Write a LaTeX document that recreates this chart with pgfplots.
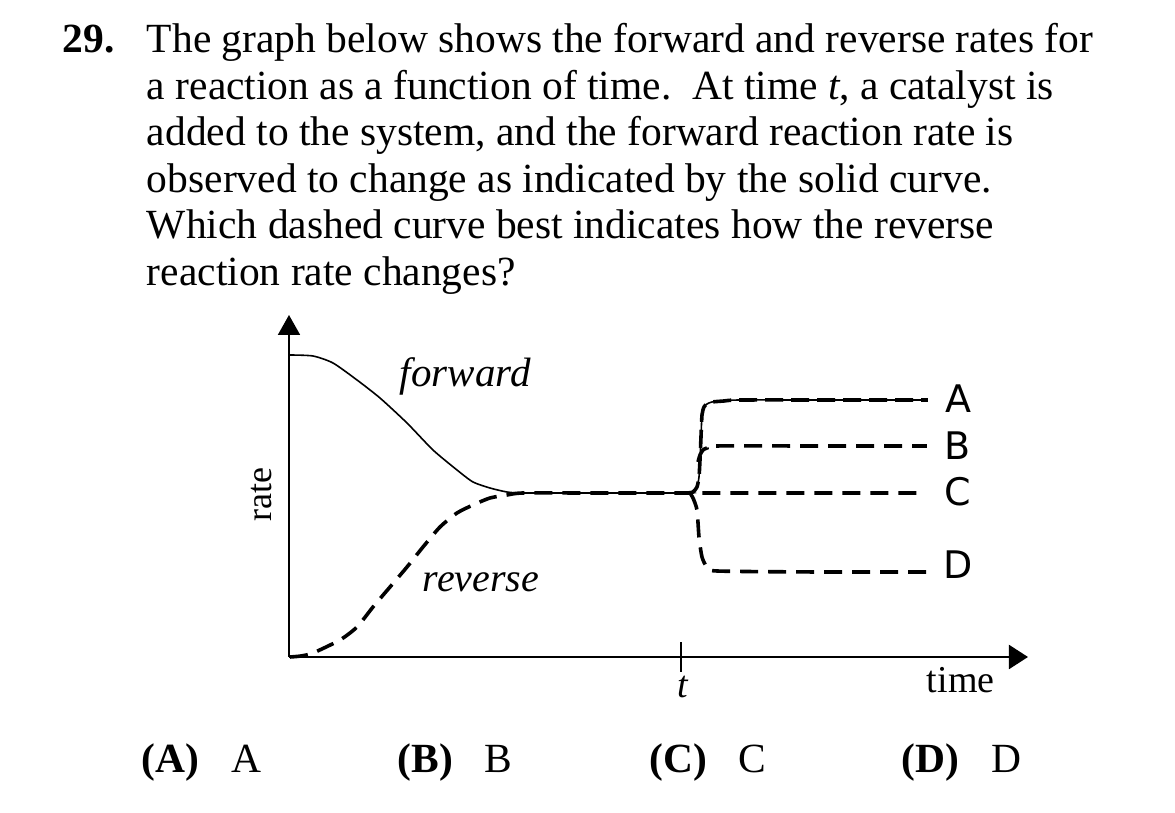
\documentclass[border=0pt]{standalone}
\usepackage{pgfplots}
\pgfplotsset{compat=1.18}
\usepackage{fontspec}
\setmainfont{Liberation Serif}
\newfontfamily\labfont{DejaVu Sans}
\usetikzlibrary{arrows.meta}
\tikzset{every node/.append style={inner sep=0pt, outer sep=0pt}}
\newcommand{\qf}{\fontsize{20.75}{23.25}\selectfont}
\begin{document}
\begin{tikzpicture}
\begin{axis}[
  x=0.5pt, y=0.5pt,
  xmin=0, xmax=739, ymin=0, ymax=342,
  axis lines=left,
  enlargelimits=false,
  clip=false,
  axis line style={line width=1pt},
  x axis line style={-{Triangle[width=12pt,length=9.5pt]}},
  y axis line style={-{Triangle[width=11pt,length=10pt]}},
  xtick={392}, xticklabels={},
  major tick length=15pt, tick align=center,
  tick style={line width=1pt, black},
  ytick=\empty,
]
% invisible frame giving the page size
\path (axis cs:-289,-156) rectangle (axis cs:886,657);

% forward (solid)
\addplot[black, line width=0.8pt, smooth, tension=0.4] coordinates {
(1,302) (24,301) (44,294) (68,277) (91,259) (118,234) (144,207) (168,187)
(184,175) (201,169) (218,165) (234,164) (300,164) (398,164) (404,165) (408,170)
(410,180) (411,197) (412,220) (413,242) (415,250) (418,253) (423,255) (435,256)
(451,257) (550,257) (639,257)};

% reverse (dashed) continuing as C
\addplot[black, line width=1.8pt, dash pattern=on 9pt off 5pt, smooth, tension=0.4] coordinates {
(1,0) (12,1) (24,4) (51,17) (68,30) (84,50) (101,70) (118,90) (134,110) (151,130)
(168,144) (184,152) (201,159) (218,162) (234,164) (300,164) (401,164) (520,164) (629,164)};

% A
\addplot[black, line width=1.8pt, dash pattern=on 9pt off 4pt, smooth, tension=0.4] coordinates {
(398,164) (404,165) (408,170) (410,180) (411,197) (412,220) (413,242) (415,250)
(418,253) (423,255) (435,256) (451,257) (550,257) (639,257)};

% B
\addplot[black, line width=1.8pt, dash pattern=on 9pt off 5pt, smooth, tension=0.4] coordinates {
(409,195) (411,202) (414,207) (418,209) (426,211) (530,211) (638,211)};

% D
\addplot[black, line width=1.8pt, dash pattern=on 9pt off 5pt, smooth, tension=0.4] coordinates {
(401,164) (404,159) (408,147) (410,120) (413,100) (418,90) (428,86) (530,85) (638,85)};

% graph labels
\node[anchor=base west, font=\itshape\fontsize{20.5}{24}\selectfont] at (axis cs:111,270) {forward};
\node[anchor=base west, font=\itshape\fontsize{20}{24}\selectfont] at (axis cs:134,65) {reverse};
\node[rotate=90, font=\fontsize{18}{22}\selectfont] at (axis cs:-27,162) {rate};
\node[anchor=base west, font=\fontsize{19}{22}\selectfont] at (axis cs:638,-36) {time};
\node[anchor=base, font=\itshape\fontsize{19}{22}\selectfont] at (axis cs:394,-41) {t};
\node[font=\labfont\fontsize{19}{22}\selectfont] at (axis cs:670,258) {A};
\node[font=\labfont\fontsize{19}{22}\selectfont] at (axis cs:669,211) {B};
\node[font=\labfont\fontsize{19}{22}\selectfont] at (axis cs:669,165) {C};
\node[font=\labfont\fontsize{19}{22}\selectfont] at (axis cs:669,92) {D};

% question text
\node[anchor=base west, font=\bfseries\qf] at (axis cs:-226,604) {29.};
\node[anchor=base west, font=\qf] at (axis cs:-142,604) {The graph below shows the forward and reverse rates for};
\node[anchor=base west, font=\qf] at (axis cs:-142,557.5) {a reaction as a function of time.\ \ At time \textit{t}, a catalyst is};
\node[anchor=base west, font=\qf] at (axis cs:-142,511) {added to the system, and the forward reaction rate is};
\node[anchor=base west, font=\qf] at (axis cs:-142,464.5) {observed to change as indicated by the solid curve.};
\node[anchor=base west, font=\qf] at (axis cs:-142,418) {Which dashed curve best indicates how the reverse};
\node[anchor=base west, font=\qf] at (axis cs:-142,371.5) {reaction rate changes?};

% answer choices
\node[anchor=base west, font=\bfseries\qf] at (axis cs:-147,-116) {(A)};
\node[anchor=base west, font=\qf] at (axis cs:-57,-116) {A};
\node[anchor=base west, font=\bfseries\qf] at (axis cs:109,-116) {(B)};
\node[anchor=base west, font=\qf] at (axis cs:196,-116) {B};
\node[anchor=base west, font=\bfseries\qf] at (axis cs:361,-116) {(C)};
\node[anchor=base west, font=\qf] at (axis cs:450,-116) {C};
\node[anchor=base west, font=\bfseries\qf] at (axis cs:613,-116) {(D)};
\node[anchor=base west, font=\qf] at (axis cs:703,-116) {D};
\end{axis}
\end{tikzpicture}
\end{document}
